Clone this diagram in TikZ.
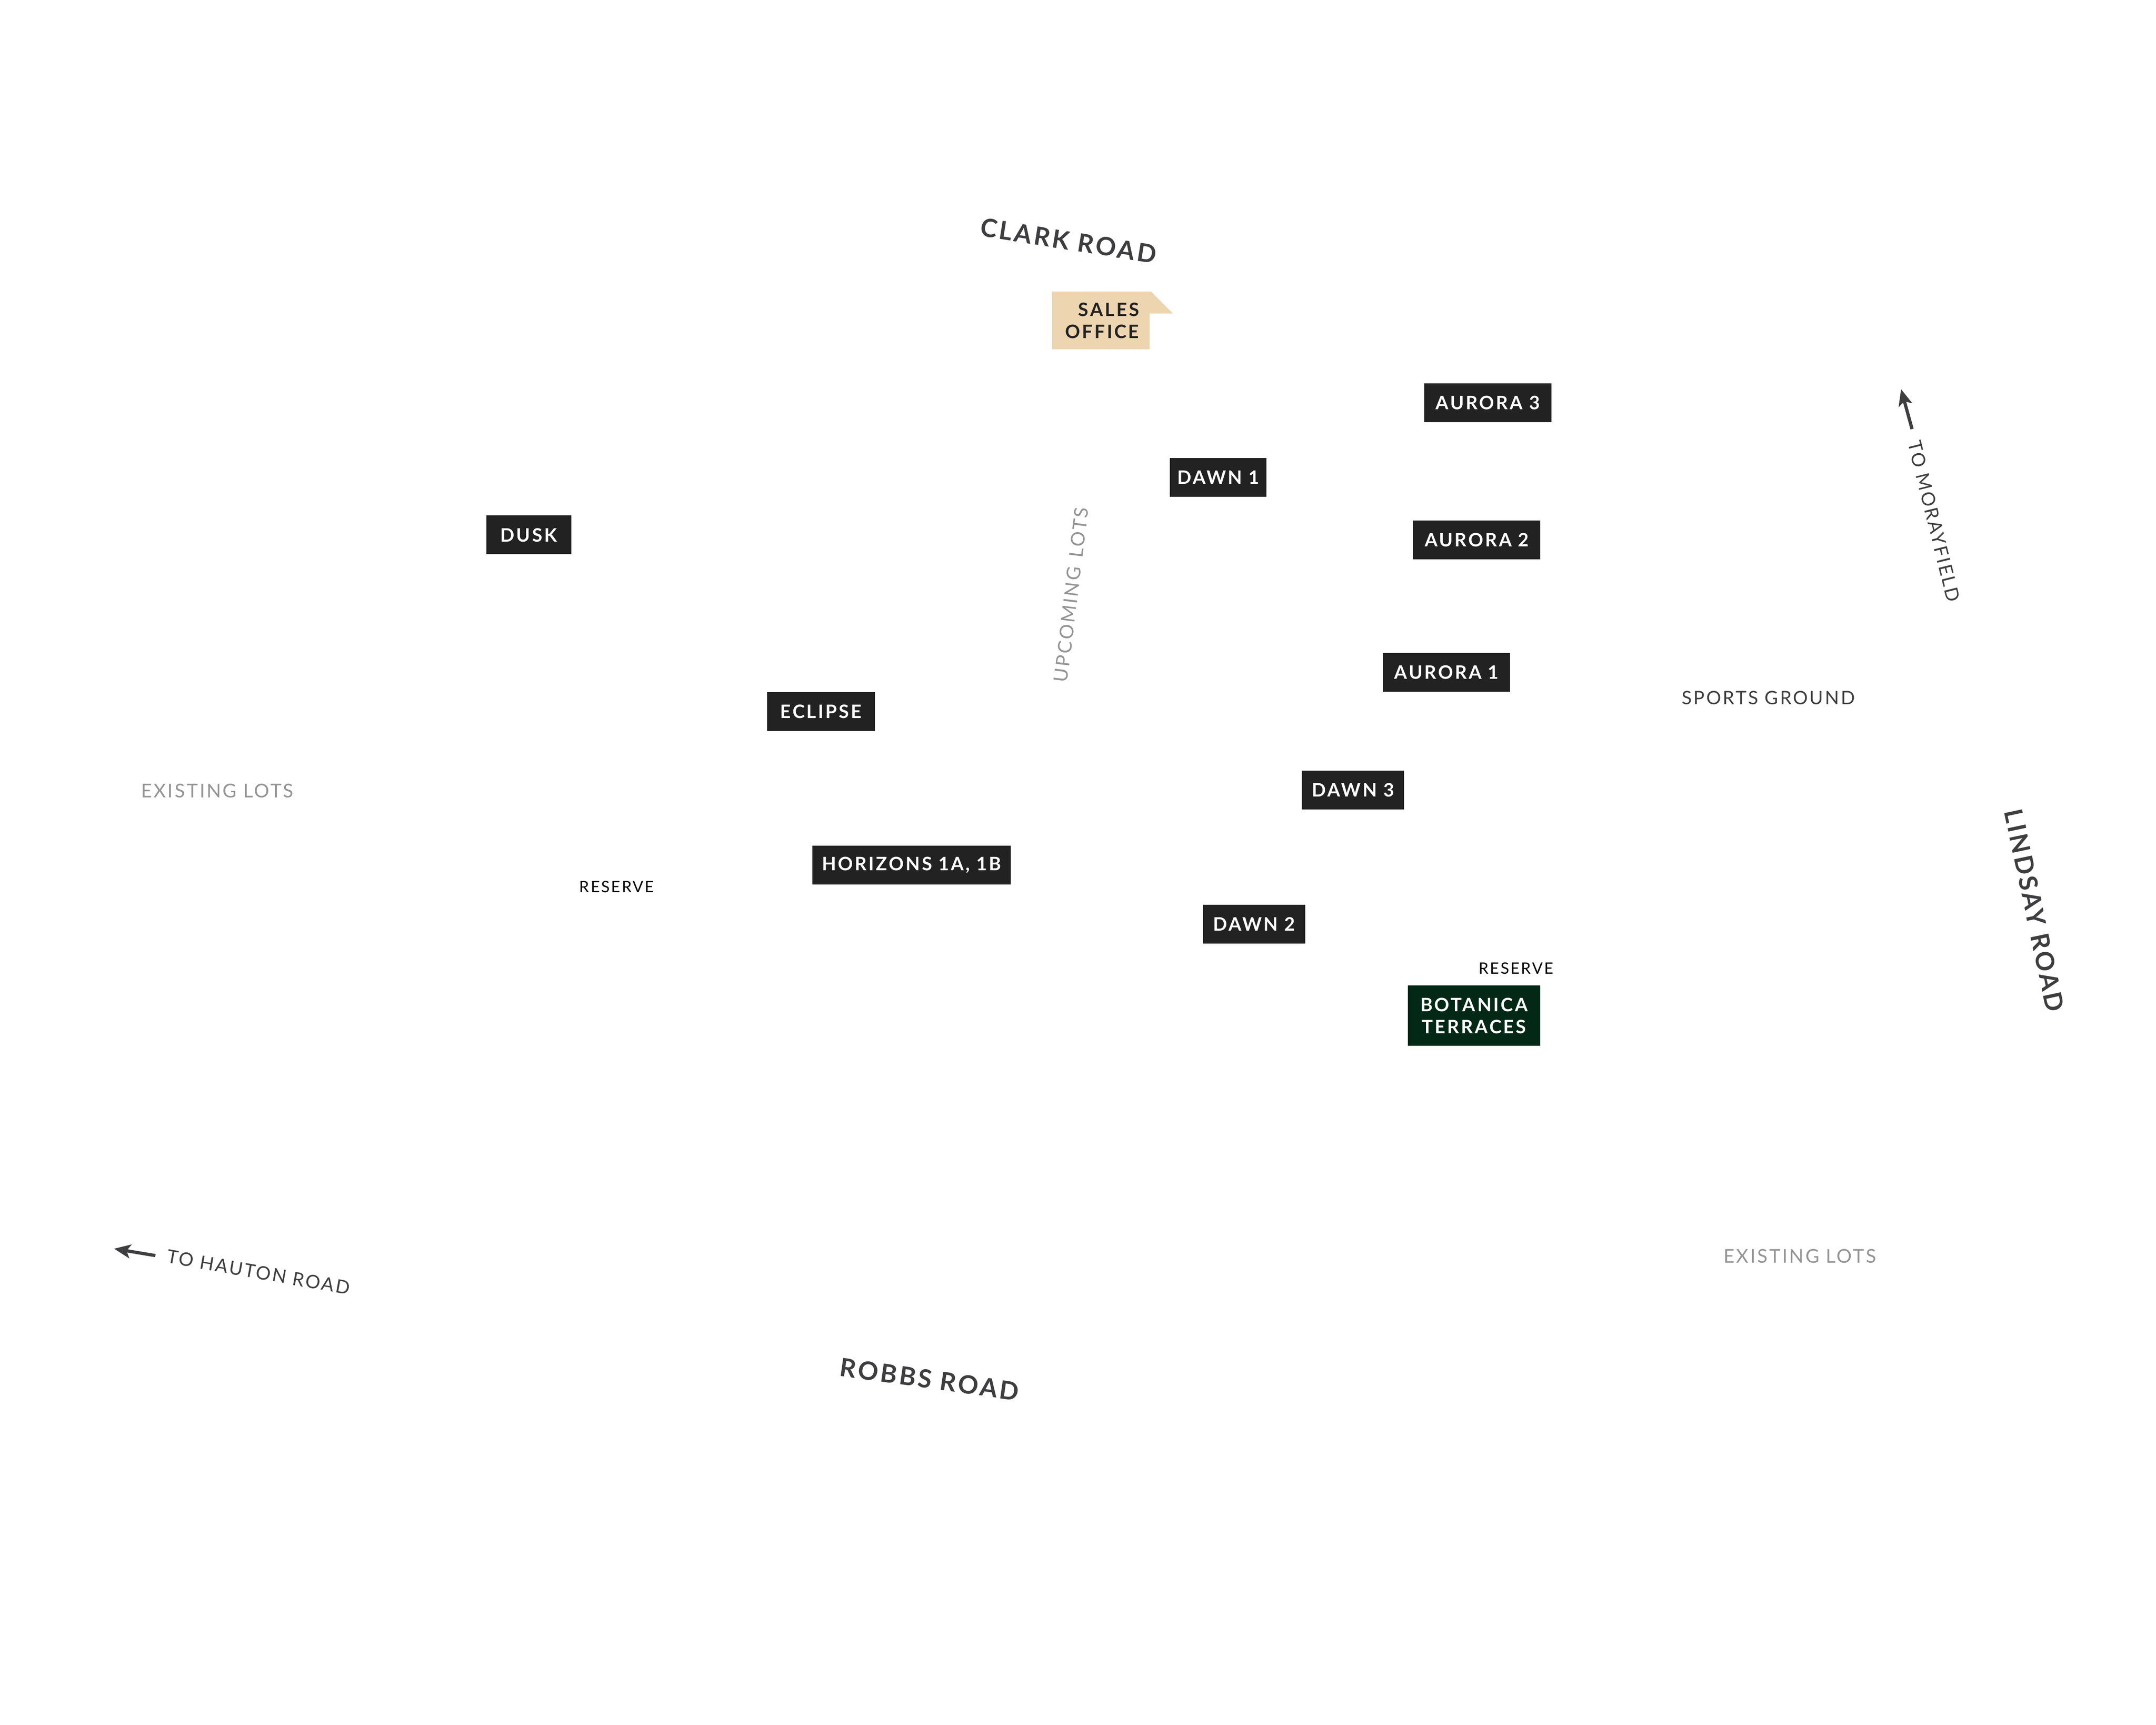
\documentclass[tikz,border=0pt]{standalone}
\usepackage{fontspec}
\setmainfont{Lato}
\newfontfamily\LBL[LetterSpace=10]{Lato Bold}
\newfontfamily\RD[LetterSpace=9]{Lato Bold}
\newfontfamily\THIN[LetterSpace=9]{Lato}
\usetikzlibrary{arrows.meta}
\definecolor{stage}{HTML}{222222}
\definecolor{forest}{HTML}{032916}
\definecolor{sand}{HTML}{EDD5B0}
\definecolor{road}{HTML}{3E3E40}
\definecolor{faded}{HTML}{949494}

\begin{document}
\begin{tikzpicture}[x=0.3189pt, y=-0.3189pt,
  stagebox/.style={fill=stage, text=white, inner sep=0pt, minimum height=9pt, font=\LBL\fontsize{4.3}{5.1}\selectfont, align=center},
  roadname/.style={text=road, inner sep=0pt, font=\RD\fontsize{5.85}{7}\selectfont},
  toname/.style={text=road, inner sep=0pt, font=\THIN\fontsize{4.3}{5}\selectfont},
  lotsname/.style={text=faded, inner sep=0pt, font=\THIN\fontsize{4.4}{5}\selectfont},
  reservename/.style={text=black, inner sep=0pt, font=\THIN\fontsize{3.65}{4}\selectfont},
  pointer/.style={road, line width=0.75pt, -{Stealth[length=3.8pt, width=3.2pt, inset=0.9pt]}}]

  \useasboundingbox (0,0) rectangle (1567.9,1254.3);

  %% stages
  \node[stagebox, minimum width=19.7pt] (dusk) at (384.5,389) {DUSK};
  \node[stagebox, minimum width=25pt] (eclipse) at (597,517.5) {ECLIPSE};
  \node[stagebox, minimum width=46pt] (horizons) at (663,629) {HORIZONS 1A, 1B};
  \node[stagebox, minimum width=22.4pt] (dawn1) at (886,347) {DAWN 1};
  \node[stagebox, minimum width=23.7pt] (dawn2) at (912,672) {DAWN 2};
  \node[stagebox, minimum width=23.7pt] (dawn3) at (984,574.5) {DAWN 3};
  \node[stagebox, minimum width=29.5pt] (aurora3) at (1082,293) {AURORA 3};
  \node[stagebox, minimum width=29.5pt] (aurora2) at (1074,392.5) {AURORA 2};
  \node[stagebox, minimum width=29.5pt] (aurora1) at (1052,489) {AURORA 1};
  \node[stagebox, fill=forest, minimum width=30.7pt, minimum height=14pt] (botanica) at (1072,738.5) {BOTANICA\\TERRACES};

  %% sales office
  \fill[sand] (765,212) -- (837,212) -- (853,228) -- (836,228) -- (836,254) -- (765,254) -- cycle;
  \node[inner sep=0pt, text=stage, font=\LBL\fontsize{4.3}{5.1}\selectfont, align=right, anchor=east] (sales) at (829,233) {SALES\\OFFICE};

  %% roads
  \node[roadname, rotate=-9] (clark) at (777,175) {CLARK ROAD};
  \node[roadname, rotate=-8] (robbs) at (676,1003) {ROBBS ROAD};
  \node[roadname, rotate=-78] (lindsay) at (1479.5,662) {LINDSAY ROAD};

  %% the rest
  \node[toname, rotate=-76] (morayfield) at (1406.5,379) {TO MORAYFIELD};
  \node[toname, rotate=-10] (hauton) at (188,925) {TO HAUTON ROAD};
  \node[toname] (sports) at (1286,507.5) {SPORTS GROUND};
  \node[lotsname] (lotsw) at (158,575) {EXISTING LOTS};
  \node[lotsname] (lotse) at (1309,913.5) {EXISTING LOTS};
  \node[lotsname, rotate=83] (upcoming) at (779,432.5) {UPCOMING\hspace{2.2pt}LOTS};
  \node[reservename] (reservew) at (448.5,645) {RESERVE};
  \node[reservename] (reservee) at (1102.5,704) {RESERVE};

  \coordinate (morayfrom) at (1390.5,312);
  \coordinate (morayto) at (1382.5,283);
  \coordinate (hautonfrom) at (113,913);
  \coordinate (hautonto) at (83,908);
  \draw[pointer] (morayfrom) -- (morayto);
  \draw[pointer] (hautonfrom) -- (hautonto);
\end{tikzpicture}
\end{document}
